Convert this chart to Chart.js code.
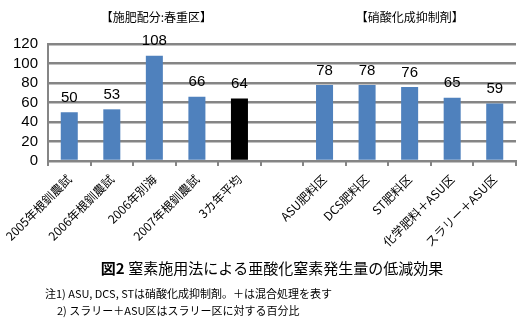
<!DOCTYPE html>
<html>
<head>
<meta charset="utf-8">
<style>
  html, body { margin: 0; padding: 0; background: #fff; }
  #wrap { width: 520px; height: 322px; position: relative; }
</style>
<script src="https://cdn.jsdelivr.net/npm/chart.js@4/dist/chart.umd.min.js"></script>
</head>
<body>
<div id="wrap"><canvas id="c" width="520" height="322"></canvas></div>
<script>
// Categories (an empty slot separates the two groups)
const categories = [
  '2005年根釧農試', '2006年根釧農試', '2006年別海', '2007年根釧農試', '3カ年平均',
  '',
  'ASU肥料区', 'DCS肥料区', 'ST肥料区', '化学肥料＋ASU区', 'スラリー＋ASU区'
];
// N2O emission relative to the control (%)
const values = [50, 53, 108, 66, 64, null, 78, 78, 76, 65, 59];
const barColors = ['#4F81BD', '#4F81BD', '#4F81BD', '#4F81BD', '#000000', '#4F81BD',
                   '#4F81BD', '#4F81BD', '#4F81BD', '#4F81BD', '#4F81BD'];
const yTicks = [0, 20, 40, 60, 80, 100, 120];
const groupHeaders = ['【施肥配分:春重区】', '【硝酸化成抑制剤】'];
const figTitleNo = '図2';
const figTitle = '窒素施用法による亜酸化窒素発生量の低減効果';
const notes = [
  '注1) ASU, DCS, STは硝酸化成抑制剤。＋は混合処理を表す',
  '2) スラリー＋ASU区はスラリー区に対する百分比'
];

const JP = '"Noto Sans CJK JP", sans-serif';
const NUM = '"Liberation Sans", Arial, sans-serif';
const GRID = '#858585';

// Value labels above each bar plus headers, figure title and notes
const annotate = {
  id: 'annotate',
  afterDatasetsDraw(chart) {
    const ctx = chart.ctx;
    const meta = chart.getDatasetMeta(0);
    ctx.save();
    ctx.fillStyle = '#000';
    ctx.font = '15px ' + NUM;
    ctx.textAlign = 'center';
    ctx.textBaseline = 'bottom';
    meta.data.forEach((bar, i) => {
      if (values[i] == null) return;
      ctx.fillText(String(values[i]), bar.x, bar.y - 7);
    });

    ctx.font = '12px ' + JP;
    ctx.textBaseline = 'middle';
    const x = chart.scales.x;
    ctx.fillText(groupHeaders[0], (x.getPixelForValue(0) + x.getPixelForValue(4)) / 2 + 2, 17);
    ctx.fillText(groupHeaders[1], (x.getPixelForValue(6) + x.getPixelForValue(10)) / 2, 17);

    // Figure title: bold number followed by regular text
    ctx.textAlign = 'left';
    ctx.font = 'bold 15px ' + JP;
    const wNo = ctx.measureText(figTitleNo + ' ').width;
    ctx.font = '15px ' + JP;
    const wT = ctx.measureText(figTitle).width;
    const startX = 272 - (wNo + wT) / 2;
    ctx.font = 'bold 15px ' + JP;
    ctx.fillText(figTitleNo, startX, 268);
    ctx.font = '15px ' + JP;
    ctx.fillText(figTitle, startX + wNo, 268);

    ctx.font = '11px ' + JP;
    ctx.fillText(notes[0], 45, 294);
    ctx.fillText(notes[1], 57, 311);
    ctx.restore();
  }
};

new Chart(document.getElementById('c'), {
  type: 'bar',
  data: {
    labels: categories,
    datasets: [{
      data: values,
      backgroundColor: barColors,
      borderWidth: 0,
      barPercentage: 0.8,
      categoryPercentage: 0.5
    }]
  },
  options: {
    responsive: false,
    animation: false,
    layout: { padding: { top: 44, right: 4, left: 0, bottom: 0 } },
    plugins: { legend: { display: false }, tooltip: { enabled: false } },
    scales: {
      x: {
        offset: true,
        grid: {
          offset: true,
          drawOnChartArea: false,
          drawTicks: true,
          tickLength: 5,
          color: GRID,
          lineWidth: 2
        },
        border: { color: GRID, width: 2 },
        ticks: {
          color: '#000',
          font: { family: JP, size: 12 },
          minRotation: 45,
          maxRotation: 45,
          autoSkip: false,
          padding: 6
        },
        afterFit(scale) { scale.height = 161; }
      },
      y: {
        min: 0,
        max: 120,
        afterBuildTicks(scale) { scale.ticks = yTicks.map(v => ({ value: v })); },
        grid: { color: GRID, lineWidth: 2.5, drawTicks: false },
        border: { color: GRID, width: 2 },
        ticks: {
          color: '#000',
          font: { family: NUM, size: 15 },
          padding: 10,
          autoSkip: false
        },
        afterFit(scale) { scale.width = 44; }
      }
    }
  },
  plugins: [annotate]
});
</script>
</body>
</html>
